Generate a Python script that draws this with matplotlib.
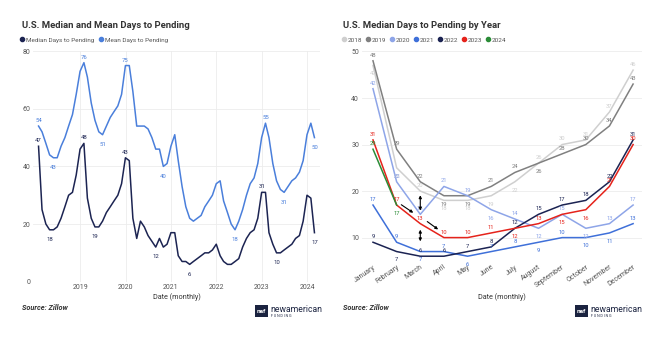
import numpy as np
import pandas as pd
import matplotlib
matplotlib.use("Agg")
import matplotlib.pyplot as plt
from matplotlib.lines import Line2D
from matplotlib.patches import Rectangle

plt.rcParams['font.family'] = ['Roboto', 'DejaVu Sans']

# ---- left chart data: monthly, Jan 2018 .. Feb 2024
median_days = [47, 25, 20, 18, 18, 19, 22, 26, 30, 31, 37, 46,
               48, 29, 22, 19, 19, 21, 24, 26, 28, 30, 34, 43,
               42, 22, 15, 21, 19, 16, 14, 12, 15, 12, 13, 17,
               17, 9, 7, 7, 6, 7, 8, 9, 10, 10, 11, 13,
               9, 7, 6, 6, 7, 8, 12, 15, 17, 18, 22, 31,
               31, 17, 13, 10, 10, 11, 12, 13, 15, 16, 21, 30,
               29, 17]
mean_days = [54, 52, 48, 44, 43, 43, 47, 50, 54, 58, 65, 73,
             76, 71, 62, 56, 52, 51, 54, 57, 59, 61, 65, 75,
             75, 66, 54, 54, 54, 53, 50, 46, 46, 40, 41, 47,
             51, 42, 33, 26, 22, 21, 22, 23, 26, 28, 30, 34,
             35, 28, 24, 20, 18, 21, 25, 30, 34, 36, 41, 50,
             55, 50, 41, 35, 32, 31, 33, 35, 36, 38, 42, 51,
             55, 50]
dates = pd.date_range('2018-01-31', periods=len(median_days), freq='ME')
year_ticks = ['2019', '2020', '2021', '2022', '2023', '2024']

# which points carry a value label (index, 'a'bove / 'b'elow)
median_lab = [(0, 'a'), (3, 'b'), (12, 'a'), (15, 'b'), (23, 'a'), (31, 'b'),
              (40, 'b'), (59, 'a'), (63, 'b'), (73, 'b')]
mean_lab = [(0, 'a'), (4, 'b'), (12, 'a'), (17, 'b'), (23, 'a'), (33, 'b'),
            (52, 'b'), (60, 'a'), (65, 'b'), (73, 'b')]

# ---- right chart data: median days by month, per year
months = ['January', 'February', 'March', 'April', 'May', 'June', 'July',
          'August', 'September', 'October', 'November', 'December']
y2018 = [47, 25, 20, 18, 18, 19, 22, 26, 30, 31, 37, 46]
y2019 = [48, 29, 22, 19, 19, 21, 24, 26, 28, 30, 34, 43]
y2020 = [42, 22, 15, 21, 19, 16, 14, 12, 15, 12, 13, 17]
y2021 = [17, 9, 7, 7, 6, 7, 8, 9, 10, 10, 11, 13]
y2022 = [9, 7, 6, 6, 7, 8, 12, 15, 17, 18, 22, 31]
y2023 = [31, 17, 13, 10, 10, 11, 12, 13, 15, 16, 21, 30]
y2024 = [29, 17]
years = ['2018', '2019', '2020', '2021', '2022', '2023', '2024']
by_year = [y2018, y2019, y2020, y2021, y2022, y2023, y2024]
year_colors = ['#cfcfcf', '#808080', '#8ea5e8', '#3f70d9', '#1b2352', '#e5231b', '#2b8c37']
year_lab = ['bbabbbbaaaaa', 'aaabbaabaaaa', 'aaaaabababaa', 'aababaababba',
            'abaaaaaaaaaa', 'aaaaaababbaa', 'ab']

navy = '#1c2452'
blue = '#4a7fdb'
grid_c = '#ececec'
tick_c = '#555555'

fig = plt.figure(figsize=(6.64, 3.41), dpi=100)
fig.patch.set_facecolor('white')


def style_axes(ax):
    for s in ax.spines.values():
        s.set_visible(False)
    ax.tick_params(length=0, labelsize=5, colors=tick_c, pad=2)
    ax.set_axisbelow(True)


def logo(x, y):
    # little "new american funding" mark
    fig.patches.append(Rectangle((x, y), 0.020, 0.036, transform=fig.transFigure,
                                 facecolor='#1b2340', edgecolor='none'))
    fig.text(x + 0.010, y + 0.016, 'naf', color='white', fontsize=4.5,
             ha='center', va='center', fontweight='bold')
    fig.text(x + 0.023, y + 0.022, 'newamerican', color='#1b2340', fontsize=6.2,
             ha='left', va='center')
    fig.text(x + 0.024, y + 0.003, 'F U N D I N G', color='#1b2340', fontsize=2.6,
             ha='left', va='center')


# ================= left panel =================
ax1 = fig.add_axes([0.050, 0.174, 0.432, 0.676])
style_axes(ax1)
ax1.plot(dates, mean_days, color=blue, lw=1.1)
ax1.plot(dates, median_days, color=navy, lw=1.1)
for i, p in mean_lab:
    off = 4 if p == 'a' else -7
    ax1.annotate(str(mean_days[i]), (dates[i], mean_days[i]), xytext=(0, off),
                 textcoords='offset points', ha='center', va='center',
                 fontsize=4.3, color=blue)
for i, p in median_lab:
    off = 4 if p == 'a' else -7
    ax1.annotate(str(median_days[i]), (dates[i], median_days[i]), xytext=(0, off),
                 textcoords='offset points', ha='center', va='center',
                 fontsize=4.3, color=navy)
ax1.set_ylim(0, 80)
ax1.set_yticks([0, 20, 40, 60, 80])
ax1.set_xlim(pd.Timestamp('2017-12-19'), pd.Timestamp('2024-04-14'))
ax1.set_xticks([pd.Timestamp(y + '-01-01') for y in year_ticks])
ax1.set_xticklabels(year_ticks)
ax1.grid(True, color=grid_c, lw=0.6)
ax1.set_xlabel('Date (monthly)', fontsize=5.2, color='#333333', labelpad=1)

fig.text(0.033, 0.924, 'U.S. Median and Mean Days to Pending', fontsize=6.8,
         fontweight='bold', color='#333333', ha='left', va='center')
h1 = [Line2D([], [], ls='', marker='o', ms=3, color=navy),
      Line2D([], [], ls='', marker='o', ms=3, color=blue)]
fig.legend(h1, ['Median Days to Pending', 'Mean Days to Pending'],
           loc='center left', bbox_to_anchor=(0.030, 0.883), ncol=2, frameon=False,
           fontsize=4.6, handlelength=0.7, handletextpad=0.3, columnspacing=0.6,
           borderpad=0, borderaxespad=0, labelcolor='#555555')
fig.text(0.033, 0.097, 'Source: Zillow', fontsize=5.3, fontweight='bold',
         style='italic', color='#333333', ha='left', va='center')
logo(0.384, 0.070)

# ================= right panel =================
ax2 = fig.add_axes([0.545, 0.235, 0.422, 0.614])
style_axes(ax2)
x = np.arange(len(months))
for yr, vals, col, labs in zip(years, by_year, year_colors, year_lab):
    xs = x[:len(vals)]
    ax2.plot(xs, vals, color=col, lw=1.1)
    for xi, v, p in zip(xs, vals, labs):
        off = 4 if p == 'a' else -6
        ax2.annotate(str(v), (xi, v), xytext=(0, off), textcoords='offset points',
                     ha='center', va='center', fontsize=4.2, color=col)

# black arrows around March
akw = dict(arrowstyle='<|-|>', color='black', lw=0.8, mutation_scale=4)
ax2.annotate('', xy=(2, 15.2), xytext=(2, 19.7), arrowprops=akw)
ax2.annotate('', xy=(2, 8.6), xytext=(2, 12.3), arrowprops=akw)
dkw = dict(arrowstyle='-|>', color='black', lw=0.8, mutation_scale=4)
ax2.annotate('', xy=(1.8, 15.0), xytext=(1.1, 17.4), arrowprops=dkw)
ax2.annotate('', xy=(2.85, 11.4), xytext=(2.2, 13.8), arrowprops=dkw)

ax2.set_ylim(5, 50)
ax2.set_yticks([10, 20, 30, 40, 50])
ax2.set_xlim(-0.47, 11.38)
ax2.set_xticks(x)
ax2.set_xticklabels(months, rotation=35, ha='right', rotation_mode='anchor')
ax2.grid(True, axis='y', color=grid_c, lw=0.6)
ax2.set_xlabel('Date (monthly)', fontsize=5.2, color='#333333', labelpad=3)

fig.text(0.517, 0.924, 'U.S. Median Days to Pending by Year', fontsize=6.8,
         fontweight='bold', color='#333333', ha='left', va='center')
h2 = [Line2D([], [], ls='', marker='o', ms=3, color=c) for c in year_colors]
fig.legend(h2, years, loc='center left', bbox_to_anchor=(0.514, 0.883), ncol=7,
           frameon=False, fontsize=4.6, handlelength=0.7, handletextpad=0.3,
           columnspacing=0.5, borderpad=0, borderaxespad=0, labelcolor='#555555')
fig.text(0.517, 0.097, 'Source: Zillow', fontsize=5.3, fontweight='bold',
         style='italic', color='#333333', ha='left', va='center')
logo(0.866, 0.070)

fig.savefig('out.png', dpi=100, facecolor='white')
